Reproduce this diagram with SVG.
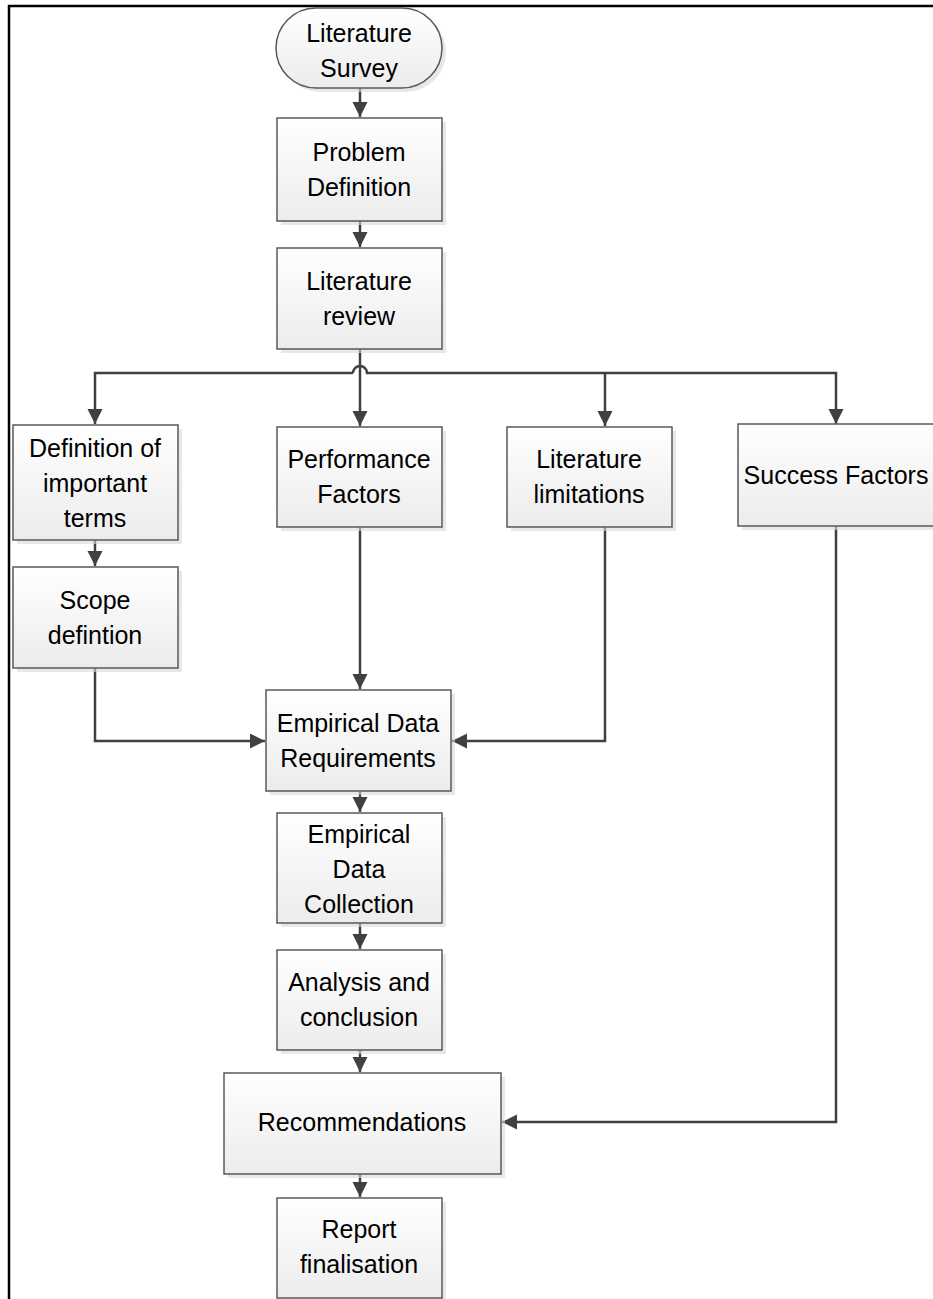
<svg xmlns="http://www.w3.org/2000/svg" width="933" height="1299" viewBox="0 0 933 1299">
<style>
.box{fill:url(#g);stroke:#595959;stroke-width:1.5}
.sh{fill:#d9d9d9;opacity:0.6}
.t{font-family:"Liberation Sans",Arial,sans-serif;font-size:25px;fill:#000;text-anchor:middle}
.c{fill:none;stroke:#404040;stroke-width:2.5}
.b{fill:none;stroke:#000;stroke-width:2.5}
</style>
<defs>
<linearGradient id="g" x1="0" y1="0" x2="0" y2="1">
<stop offset="0" stop-color="#ffffff"/>
<stop offset="1" stop-color="#ececec"/>
</linearGradient>
<marker id="a" markerUnits="userSpaceOnUse" markerWidth="16" markerHeight="16" refX="15" refY="7.5" orient="auto">
<path d="M0,0 L15,7.5 L0,15 z" fill="#404040"/>
</marker>
</defs>
<rect width="933" height="1299" fill="#fff"/>
<path class="b" d="M933,6 H9 V1299"/>

<g id="connectors">
<path class="c" d="M360,88 V117" marker-end="url(#a)"/>
<path class="c" d="M360,221 V247" marker-end="url(#a)"/>
<path class="c" d="M360,349 V426" marker-end="url(#a)"/>
<path class="c" d="M353,373 H95 V424" marker-end="url(#a)"/>
<path class="c" d="M353,373 A7,7 0 0 1 367,373 H836 V424" marker-end="url(#a)"/>
<path class="c" d="M605,373 V426" marker-end="url(#a)"/>
<path class="c" d="M95,540 V566" marker-end="url(#a)"/>
<path class="c" d="M95,668 V741 H265" marker-end="url(#a)"/>
<path class="c" d="M360,527 V689" marker-end="url(#a)"/>
<path class="c" d="M605,527 V741 H452" marker-end="url(#a)"/>
<path class="c" d="M360,791 V812" marker-end="url(#a)"/>
<path class="c" d="M360,923 V949" marker-end="url(#a)"/>
<path class="c" d="M360,1050 V1072" marker-end="url(#a)"/>
<path class="c" d="M836,526 V1122 H502" marker-end="url(#a)"/>
<path class="c" d="M360,1174 V1197" marker-end="url(#a)"/>
</g>

<g id="n-literature-survey">
<rect class="sh" x="280" y="12" width="166" height="80" rx="40"/>
<rect class="box" x="276" y="8" width="166" height="80" rx="40"/>
<text class="t" x="359" y="42">Literature</text>
<text class="t" x="359" y="77">Survey</text>
</g>

<g id="n-problem-definition">
<rect class="sh" x="281" y="122" width="165" height="103"/>
<rect class="box" x="277" y="118" width="165" height="103"/>
<text class="t" x="359" y="161">Problem</text>
<text class="t" x="359" y="196">Definition</text>
</g>

<g id="n-literature-review">
<rect class="sh" x="281" y="252" width="165" height="101"/>
<rect class="box" x="277" y="248" width="165" height="101"/>
<text class="t" x="359" y="290">Literature</text>
<text class="t" x="359" y="325">review</text>
</g>

<g id="n-definition-terms">
<rect class="sh" x="17" y="429" width="165" height="115"/>
<rect class="box" x="13" y="425" width="165" height="115"/>
<text class="t" x="95" y="457">Definition of</text>
<text class="t" x="95" y="492">important</text>
<text class="t" x="95" y="527">terms</text>
</g>

<g id="n-performance-factors">
<rect class="sh" x="281" y="431" width="165" height="100"/>
<rect class="box" x="277" y="427" width="165" height="100"/>
<text class="t" x="359" y="468">Performance</text>
<text class="t" x="359" y="503">Factors</text>
</g>

<g id="n-literature-limitations">
<rect class="sh" x="511" y="431" width="165" height="100"/>
<rect class="box" x="507" y="427" width="165" height="100"/>
<text class="t" x="589" y="468">Literature</text>
<text class="t" x="589" y="503">limitations</text>
</g>

<g id="n-success-factors">
<rect class="sh" x="742" y="428" width="200" height="102"/>
<rect class="box" x="738" y="424" width="200" height="102"/>
<text class="t" x="836" y="484">Success Factors</text>
</g>

<g id="n-scope-definition">
<rect class="sh" x="17" y="571" width="165" height="101"/>
<rect class="box" x="13" y="567" width="165" height="101"/>
<text class="t" x="95" y="609">Scope</text>
<text class="t" x="95" y="644">defintion</text>
</g>

<g id="n-empirical-requirements">
<rect class="sh" x="270" y="694" width="185" height="101"/>
<rect class="box" x="266" y="690" width="185" height="101"/>
<text class="t" x="358" y="732">Empirical Data</text>
<text class="t" x="358" y="767">Requirements</text>
</g>

<g id="n-empirical-collection">
<rect class="sh" x="281" y="817" width="165" height="110"/>
<rect class="box" x="277" y="813" width="165" height="110"/>
<text class="t" x="359" y="843">Empirical</text>
<text class="t" x="359" y="878">Data</text>
<text class="t" x="359" y="913">Collection</text>
</g>

<g id="n-analysis">
<rect class="sh" x="281" y="954" width="165" height="100"/>
<rect class="box" x="277" y="950" width="165" height="100"/>
<text class="t" x="359" y="991">Analysis and</text>
<text class="t" x="359" y="1026">conclusion</text>
</g>

<g id="n-recommendations">
<rect class="sh" x="228" y="1077" width="277" height="101"/>
<rect class="box" x="224" y="1073" width="277" height="101"/>
<text class="t" x="362" y="1131">Recommendations</text>
</g>

<g id="n-report">
<rect class="sh" x="281" y="1202" width="165" height="100"/>
<rect class="box" x="277" y="1198" width="165" height="100"/>
<text class="t" x="359" y="1238">Report</text>
<text class="t" x="359" y="1273">finalisation</text>
</g>
</svg>
